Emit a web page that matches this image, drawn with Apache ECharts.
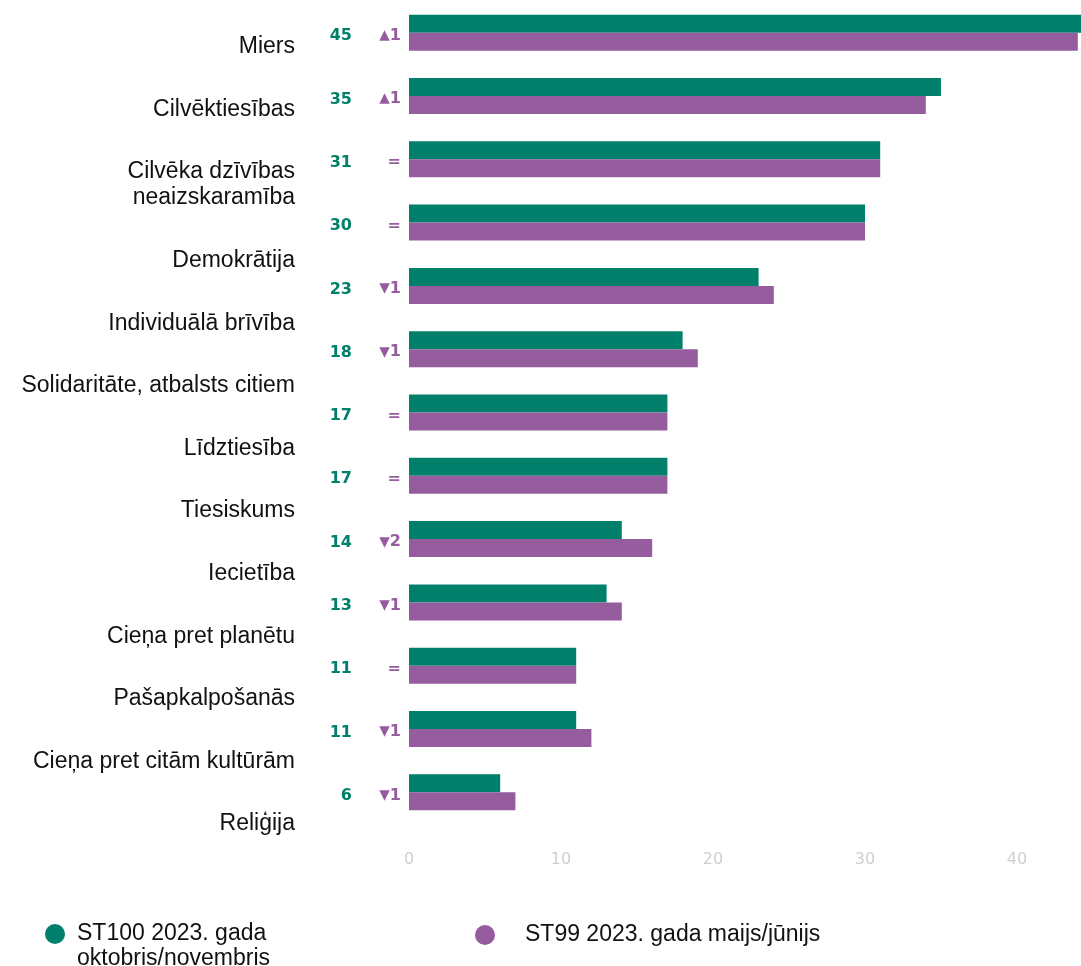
<!DOCTYPE html>
<html>
<head>
	<meta charset="UTF-8">
	<title>Vērtības</title>
	<script src="https://cdn.jsdelivr.net/npm/echarts@6/dist/echarts.min.js"></script>
	<style>
		html, body { margin: 0; padding: 0; background: #fff; }
		#chart { width: 1081px; height: 966px; }
	</style>
</head>
<body>
	<div id="chart"></div>
	<script>
		// kategorijas (augšā -> lejā)
		var categories = ['Miers', 'Cilvēktiesības', 'Cilvēka dzīvības\nneaizskaramība', 'Demokrātija',
			'Individuālā brīvība', 'Solidaritāte, atbalsts citiem', 'Līdztiesība', 'Tiesiskums',
			'Iecietība', 'Cieņa pret planētu', 'Pašapkalpošanās', 'Cieņa pret citām kultūrām', 'Reliģija'];
		var st100 = [45, 35, 31, 30, 23, 18, 17, 17, 14, 13, 11, 11, 6];
		var st99 = [44, 34, 31, 30, 24, 19, 17, 17, 16, 14, 11, 12, 7];
		var seriesNames = ['ST100 2023. gada oktobris/novembris', 'ST99 2023. gada maijs/jūnijs'];
		var xTicks = [0, 10, 20, 30, 40];

		var GREEN = '#00806b';
		var PURPLE = '#955c9e';
		var LINE_H = 26;

		// izmaiņa starp aptaujām
		function changeLabel(i) {
			var d = st100[i] - st99[i];
			if (d > 0) return '{t|▴}' + d;
			if (d < 0) return '{t|▾}' + (-d);
			return '=';
		}

		// nosaukumi plūst kā teksts: pārnestā rinda nobīda nākamos uz leju
		// (nobīdi panāk ar tukšām rindām priekšā, jo teksts centrējas)
		var blanks = [];
		var acc = 0;
		categories.forEach(function (c) {
			var extra = c.split('\n').length - 1;
			blanks.push(acc + extra);
			acc += 2 * extra;
		});
		function flowLabel(v, i) {
			return new Array(blanks[i] + 1).join('\n') + v;
		}

		var chart = echarts.init(document.getElementById('chart'), null, { renderer: 'canvas' });
		chart.setOption({
			animation: false,
			backgroundColor: '#ffffff',
			grid: [
				{ left: 409, right: -12, top: 1, bottom: 142, outerBoundsMode: 'none' },
				{ left: 409, right: -12, top: 15.5, bottom: 136.7, outerBoundsMode: 'none' }
			],
			xAxis: [
				{
					type: 'value', gridIndex: 0, min: 0, max: 45, interval: 10,
					axisLine: { show: false }, axisTick: { show: false }, splitLine: { show: false },
					axisLabel: {
						margin: 28, color: '#cfcfcf', fontSize: 16, fontFamily: 'DejaVu Sans',
						showMaxLabel: false,
						formatter: function (v) { return xTicks.indexOf(v) >= 0 ? String(v) : ''; }
					}
				},
				{ type: 'value', gridIndex: 1, show: false }
			],
			yAxis: [
				{
					type: 'category', gridIndex: 0, inverse: true, data: categories,
					axisLine: { show: false }, axisTick: { show: false },
					axisLabel: {
						interval: 0, margin: 57, color: GREEN, fontSize: 16, fontWeight: 'bold',
						fontFamily: 'DejaVu Sans',
						formatter: function (v, i) { return '{v|' + st100[i] + '}'; },
						rich: {
							v: {
								fontSize: 16, fontWeight: 'bold', color: GREEN, fontFamily: 'DejaVu Sans',
								padding: [7, 0, 0, 0]
							}
						}
					}
				},
				{
					type: 'category', gridIndex: 0, inverse: true, data: categories, position: 'left',
					axisLine: { show: false }, axisTick: { show: false },
					axisLabel: {
						interval: 0, margin: 8, color: PURPLE, fontSize: 16, fontWeight: 'bold',
						fontFamily: 'DejaVu Sans', padding: [6, 0, 0, 0],
						formatter: function (v, i) { return changeLabel(i); },
						rich: { t: { fontSize: 21, color: PURPLE, fontFamily: 'DejaVu Sans' } }
					}
				},
				{
					type: 'category', gridIndex: 1, inverse: true, data: categories,
					axisLine: { show: false }, axisTick: { show: false },
					axisLabel: {
						interval: 0, margin: 114, color: '#111111', fontSize: 23, lineHeight: LINE_H,
						fontFamily: 'Liberation Sans', align: 'right',
						formatter: flowLabel
					}
				}
			],
			legend: [
				{
					data: [seriesNames[0]], left: 45, top: 896.5, padding: 0,
					icon: 'circle', itemWidth: 20, itemHeight: 20,
					formatter: function (n) { return '\n' + n.replace('gada ', 'gada\n'); },
					textStyle: {
						fontSize: 23, lineHeight: 25, color: '#111111', fontFamily: 'Liberation Sans',
						padding: [0, 0, 0, 7]
					}
				},
				{
					data: [seriesNames[1]], left: 475, top: 922, padding: 0,
					icon: 'circle', itemWidth: 20, itemHeight: 20,
					textStyle: {
						fontSize: 23, lineHeight: LINE_H, color: '#111111', fontFamily: 'Liberation Sans',
						padding: [0, 0, 0, 25]
					}
				}
			],
			series: [
				{
					name: seriesNames[0], type: 'bar', xAxisIndex: 0, yAxisIndex: 0,
					data: st100, barWidth: 18, barGap: '0%',
					itemStyle: { color: GREEN }
				},
				{
					name: seriesNames[1], type: 'bar', xAxisIndex: 0, yAxisIndex: 0,
					data: st99, barWidth: 18, barGap: '0%',
					itemStyle: { color: PURPLE }
				}
			]
		});
	</script>
</body>
</html>
